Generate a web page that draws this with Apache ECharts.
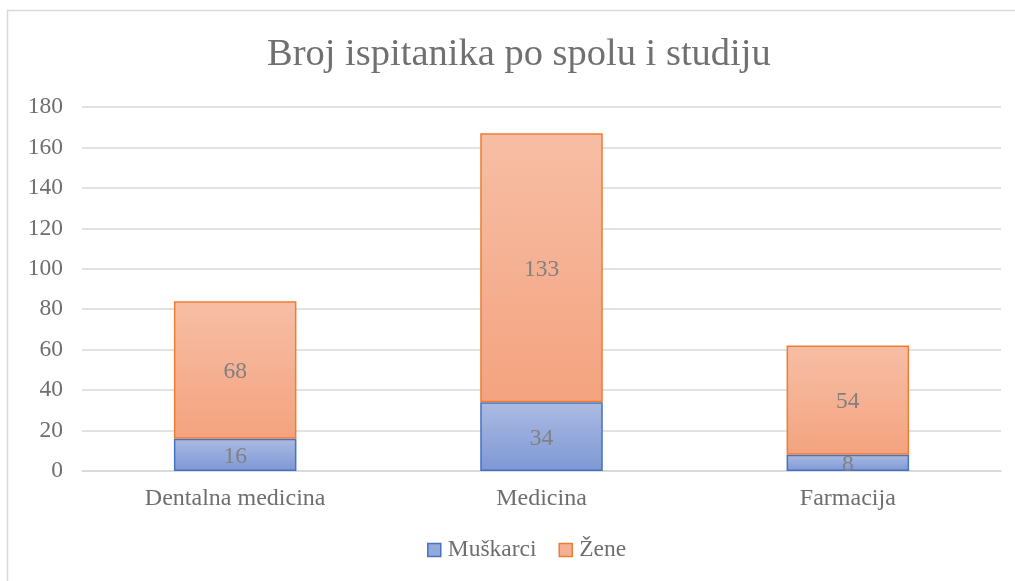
<!DOCTYPE html>
<html>
<head>
<meta charset="utf-8">
<script src="https://cdn.jsdelivr.net/npm/echarts@6/dist/echarts.min.js"></script>
<style>html,body{margin:0;padding:0;background:#fff}#c{width:1015px;height:581px}</style>
</head>
<body>
<div id="c"></div>
<script>
const categories = ['Dentalna medicina', 'Medicina', 'Farmacija'];
const muskarci = [16, 34, 8];
const zene = [68, 133, 54];
const yTicks = { min: 0, max: 180, interval: 20 };

const font = 'Liberation Serif, "Times New Roman", serif';
const textGray = '#6e6e6e';
const chart = echarts.init(document.getElementById('c'));
function grad(top, bottom) {
  return new echarts.graphic.LinearGradient(0, 0, 0, 1, [
    { offset: 0, color: top }, { offset: 1, color: bottom }
  ]);
}
chart.setOption({
  animation: false,
  backgroundColor: '#fff',
  title: {
    text: 'Broj ispitanika po spolu i studiju',
    left: 262, top: 30,
    textStyle: { fontFamily: font, fontSize: 38.5, fontWeight: 'normal', color: '#707070' }
  },
  graphic: [{
    type: 'rect', shape: { x: 7.5, y: 10.5, width: 1200, height: 800 },
    style: { fill: 'none', stroke: '#d9d9d9', lineWidth: 1.5 }, silent: true
  }],
  legend: {
    bottom: 14, left: 422, itemWidth: 13, itemHeight: 13, itemGap: 22,
    textStyle: { fontFamily: font, fontSize: 23.5, color: textGray, padding: [0, 0, 0, 2] },
    data: [
      { name: 'Muškarci', icon: 'rect', itemStyle: { color: '#93a9dc', borderColor: '#4472c4', borderWidth: 1.5 } },
      { name: 'Žene', icon: 'rect', itemStyle: { color: '#f5af92', borderColor: '#ed7d31', borderWidth: 1.5 } }
    ]
  },
  grid: { left: 82, right: 14, top: 107, bottom: 110, containLabel: false },
  xAxis: {
    type: 'category', data: categories,
    axisLine: { lineStyle: { color: '#d9d9d9', width: 1.5 } },
    axisTick: { show: false },
    axisLabel: { fontFamily: font, fontSize: 24, color: textGray, margin: 16 }
  },
  yAxis: {
    type: 'value', min: yTicks.min, max: yTicks.max, interval: yTicks.interval,
    axisLine: { show: false }, axisTick: { show: false },
    splitLine: { lineStyle: { color: '#d9d9d9', width: 1.5 } },
    axisLabel: { fontFamily: font, fontSize: 23.5, color: textGray, margin: 19 }
  },
  series: [
    {
      name: 'Muškarci', type: 'bar', stack: 's', data: muskarci, barWidth: '40%',
      itemStyle: { color: grad('#abbbe2', '#7e98d5'), borderColor: '#4472c4', borderWidth: 1.5 },
      label: { show: true, position: 'inside', offset: [0, 2], fontFamily: font, fontSize: 23.5, color: '#808080' }
    },
    {
      name: 'Žene', type: 'bar', stack: 's', data: zene, barWidth: '40%',
      itemStyle: { color: grad('#f7bea5', '#f4a37f'), borderColor: '#ed7d31', borderWidth: 1.5 },
      label: { show: true, position: 'inside', offset: [0, 2], fontFamily: font, fontSize: 23.5, color: '#808080' }
    }
  ]
});
</script>
</body>
</html>
